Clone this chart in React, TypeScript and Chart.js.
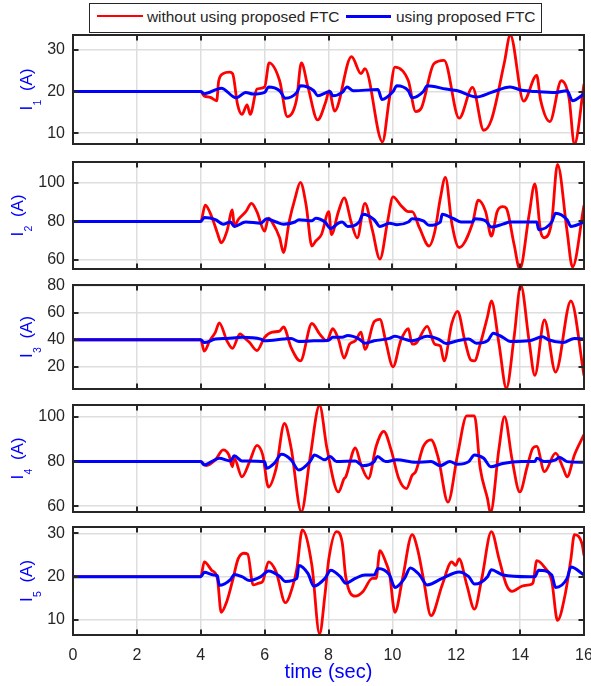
import React, { useEffect, useRef } from 'react';
import { Chart, registerables } from 'chart.js';

Chart.register(...registerables);

// ---------------- data ----------------
const xTicks = [0, 2, 4, 6, 8, 10, 12, 14, 16];

const i1Ticks = [10, 20, 30];
const i2Ticks = [60, 80, 100];
const i3Ticks = [20, 40, 60, 80];
const i4Ticks = [60, 80, 100];
const i5Ticks = [10, 20, 30];

const i1Red: number[][] = [[0, 20], [4.0, 20], [4.1, 19], [4.3, 18.6], [4.5, 17.8], [4.56, 22.5], [4.7, 24.3], [4.9, 24.7], [5.0, 24.3], [5.15, 17], [5.29, 14.5], [5.45, 16.8], [5.55, 14.5], [5.76, 20.6], [6.0, 21.1], [6.14, 26.9], [6.47, 22.6], [6.71, 14.0], [7.0, 18.1], [7.15, 26.9], [7.36, 21.0], [7.66, 13.2], [7.92, 17.7], [8.02, 20.2], [8.19, 15.3], [8.72, 28.4], [9.02, 24.3], [9.14, 25.5], [9.69, 7.9], [9.9, 18], [10.08, 25.9], [10.5, 22.6], [10.73, 15.2], [10.91, 16.1], [11.3, 26.7], [11.62, 27.5], [12.09, 13.6], [12.51, 21.0], [12.86, 10.7], [13.1, 13.2], [13.51, 27.1], [13.69, 33.6], [14.11, 17.7], [14.52, 23.9], [14.64, 18], [14.93, 12.8], [15.29, 22.6], [15.53, 18.5], [15.7, 7.3], [16.0, 21.8]];
const i1Blue: number[][] = [[0, 20], [4.0, 20], [4.11, 19.5], [4.52, 20.6], [4.64, 20.8], [5.11, 18.5], [5.41, 19.8], [5.64, 19.4], [6.0, 19.8], [6.12, 21.1], [6.47, 20.2], [6.65, 18.4], [7.01, 19.8], [7.12, 21.4], [7.54, 20.2], [7.66, 19.0], [8.05, 20.0], [8.13, 19.0], [8.43, 19.8], [8.58, 21.1], [8.78, 20.2], [9.55, 20.5], [9.67, 18.1], [10.02, 20.0], [10.14, 21.4], [10.5, 20.2], [10.62, 18.5], [10.97, 20.0], [11.09, 21.4], [11.68, 20.6], [12.04, 20.2], [12.63, 18.7], [13.1, 19.8], [13.69, 21.1], [14.05, 20.3], [14.52, 20.0], [15.11, 19.8], [15.47, 20.2], [15.64, 17.8], [16.0, 19.4]];

const i2Red: number[][] = [[0, 80], [4.0, 80], [4.14, 88.5], [4.34, 82.6], [4.52, 74], [4.64, 68.9], [4.82, 74.9], [4.99, 86], [5.05, 77.4], [5.17, 80.9], [5.41, 85.1], [5.59, 89.4], [5.76, 85], [6.0, 74.9], [6.12, 81.7], [6.24, 79.5], [6.47, 71.5], [6.59, 63.8], [6.77, 80], [6.95, 91.9], [7.12, 100.4], [7.3, 88.5], [7.48, 67.2], [7.6, 69.8], [7.78, 73.2], [8.01, 85.1], [8.09, 73.2], [8.31, 85.1], [8.49, 92.3], [8.72, 79.1], [8.9, 71.5], [9.14, 89.4], [9.37, 75.7], [9.61, 60.4], [9.85, 80], [10.02, 92.8], [10.26, 88.5], [10.5, 85.1], [10.62, 85.1], [10.85, 76.6], [11.15, 67.2], [11.33, 74.9], [11.5, 91.9], [11.66, 103], [11.86, 79.1], [12.09, 66.4], [12.51, 79.1], [12.69, 91.1], [12.92, 85.1], [13.1, 72.3], [13.28, 85.1], [13.46, 87.7], [13.57, 86.8], [13.81, 68.1], [13.99, 55.2], [14.28, 83.4], [14.46, 99.6], [14.64, 74.9], [14.76, 71.5], [14.99, 80], [15.17, 109.8], [15.47, 74.9], [15.64, 56.2], [16.0, 88.5]];
const i2Blue: number[][] = [[0, 80], [4.0, 80], [4.11, 82], [4.46, 80.9], [4.7, 78.6], [4.93, 79.7], [5.05, 77.4], [5.41, 79.7], [5.88, 79.1], [6.06, 81.4], [6.36, 79.7], [6.59, 78.6], [6.95, 79.7], [7.07, 80.9], [7.48, 80.3], [7.6, 81.7], [7.89, 79.7], [8.07, 76.3], [8.31, 79.1], [8.43, 79.7], [8.6, 77.4], [8.96, 79.7], [9.08, 83.7], [9.43, 80.9], [9.61, 77.4], [9.91, 79.1], [10.14, 78.3], [10.5, 79.7], [10.62, 81.4], [10.97, 80.3], [11.15, 78], [11.5, 79.7], [11.56, 83.7], [11.92, 81.4], [12.15, 79.7], [12.51, 79.7], [12.57, 81.4], [12.92, 80.3], [13.1, 77.1], [13.46, 78.6], [13.69, 79.7], [14.52, 79.7], [14.58, 75.7], [14.99, 79.7], [15.11, 84.3], [15.47, 80.9], [15.59, 77.4], [16.0, 79.7]];

const i3Red: number[][] = [[0, 40], [4.0, 40], [4.11, 31.5], [4.28, 39.2], [4.46, 45.7], [4.58, 52.6], [4.82, 39.2], [4.99, 33.6], [5.23, 44.4], [5.41, 40.5], [5.53, 37.9], [5.76, 32], [6.0, 41.8], [6.24, 45.7], [6.47, 46.4], [6.59, 49.5], [6.83, 34.1], [7.12, 24.3], [7.48, 52.1], [7.72, 44.4], [7.95, 39.2], [8.13, 48.2], [8.31, 40.5], [8.49, 26.4], [8.66, 36.7], [8.84, 39.2], [9.02, 45.7], [9.14, 32.8], [9.43, 53.4], [9.61, 55.2], [9.79, 39.2], [10.02, 19.9], [10.26, 39.2], [10.5, 48.2], [10.62, 36.7], [10.73, 37.2], [11.09, 50], [11.33, 36.7], [11.5, 35.4], [11.62, 24.3], [11.86, 52.1], [12.04, 61.1], [12.27, 39.2], [12.45, 25.1], [12.57, 24.3], [12.75, 36.7], [12.98, 57.3], [13.1, 68.8], [13.34, 36.7], [13.57, 4], [13.81, 41.8], [14.02, 80.5], [14.28, 39.2], [14.46, 13.5], [14.76, 54.7], [15.11, 16], [15.59, 68.8], [16.0, 13.5]];
const i3Blue: number[][] = [[0, 40], [4.0, 40], [4.11, 37.9], [4.46, 40.5], [4.82, 41], [5.29, 41.8], [5.88, 40.5], [6.0, 39.2], [6.59, 40.5], [6.83, 41], [7.07, 38.7], [7.54, 39.2], [8.01, 39.7], [8.13, 41.8], [8.43, 41.8], [8.6, 43.1], [8.96, 40.5], [9.14, 37.4], [9.43, 39.2], [9.91, 41], [10.08, 42.6], [10.38, 40.5], [10.62, 39.2], [11.09, 42.6], [11.44, 40.5], [11.68, 37.2], [12.04, 39.2], [12.39, 40.5], [12.63, 37.4], [12.98, 39.2], [13.16, 44.9], [13.46, 41.8], [13.69, 38.7], [14.28, 39.2], [14.7, 42.3], [14.88, 40], [15.35, 38], [15.7, 41], [16.0, 40.5]];

const i4Red: number[][] = [[0, 80], [4.0, 80], [4.17, 78.2], [4.46, 80.8], [4.7, 85.3], [4.88, 83], [4.99, 77.7], [5.05, 81.5], [5.29, 73.2], [5.53, 80], [5.76, 87.3], [5.94, 83], [6.12, 68.6], [6.36, 77], [6.62, 97.1], [6.83, 86.1], [7.15, 57.5], [7.42, 81.5], [7.72, 105.2], [7.95, 86.1], [8.31, 66.4], [8.49, 72.4], [8.54, 73.2], [8.84, 86.1], [9.02, 78.5], [9.25, 72.4], [9.49, 86.8], [9.73, 93.6], [9.96, 85.3], [10.2, 72.4], [10.44, 67.9], [10.62, 73.9], [10.73, 75.5], [10.97, 86.8], [11.21, 89.8], [11.44, 81.5], [11.74, 61.8], [12.04, 83], [12.33, 100.5], [12.57, 100.5], [12.75, 77], [12.98, 63.3], [13.07, 57], [13.34, 86.1], [13.51, 100.2], [13.75, 80.8], [13.99, 66.4], [14.22, 77.7], [14.4, 86.1], [14.52, 86.8], [14.76, 75.5], [15.11, 83.8], [15.35, 77], [15.47, 73.2], [15.7, 83], [16.0, 92.1]];
const i4Blue: number[][] = [[0, 80], [4.0, 80], [4.11, 78.5], [4.34, 80], [4.58, 81.5], [4.93, 80.3], [5.05, 82.6], [5.29, 80.3], [6.0, 80], [6.06, 77], [6.3, 79.2], [6.53, 83.3], [6.83, 80.8], [7.07, 76.2], [7.42, 80], [7.56, 83], [7.89, 80.8], [8.05, 82.3], [8.25, 80], [8.84, 80.3], [9.08, 78.2], [9.43, 80], [9.53, 82.3], [9.79, 80], [10.14, 80.8], [10.73, 79.7], [11.21, 80], [11.5, 78.2], [11.8, 80], [12.04, 78.8], [12.39, 80], [12.57, 83], [12.86, 81.5], [13.08, 77.7], [13.46, 79.2], [14.05, 80], [14.46, 80], [14.52, 81.5], [14.76, 80], [15.11, 80.8], [15.23, 82], [15.47, 80], [16.0, 79.7]];

const i5Red: number[][] = [[0, 20], [4.0, 20], [4.11, 23.4], [4.34, 21.5], [4.52, 19.6], [4.64, 11.8], [4.82, 14.4], [4.99, 18.9], [5.17, 24.1], [5.35, 25.4], [5.47, 25.2], [5.64, 18.1], [5.82, 18.5], [5.94, 18.9], [6.12, 23.4], [6.36, 21.1], [6.65, 14], [6.89, 18.1], [7.01, 21.9], [7.18, 30.8], [7.48, 22.6], [7.72, 6.8], [7.89, 15.9], [8.01, 24.1], [8.25, 30.4], [8.43, 27.8], [8.54, 20], [8.84, 15.5], [9.08, 16.6], [9.37, 19.6], [9.49, 19.6], [9.61, 26], [9.79, 23.4], [9.91, 20.7], [10.08, 11.8], [10.32, 19.6], [10.62, 29.7], [10.79, 26.3], [10.97, 19.6], [11.21, 11], [11.56, 18.1], [11.86, 23.4], [11.98, 22.6], [12.09, 24.1], [12.33, 18.1], [12.57, 12.5], [12.8, 19.6], [13.1, 30.4], [13.34, 24.1], [13.57, 18.1], [13.75, 16.6], [14.05, 17.8], [14.28, 18.1], [14.4, 18.5], [14.52, 23.7], [14.76, 22.2], [14.99, 19], [15.17, 9.9], [15.41, 15.9], [15.59, 24.1], [15.7, 29.7], [15.94, 27.5], [16.0, 24.9]];
const i5Blue: number[][] = [[0, 20], [4.0, 20], [4.11, 21], [4.4, 20.4], [4.52, 20.2], [4.58, 18], [4.93, 19.3], [5.05, 20.5], [5.29, 20], [5.53, 19.1], [5.88, 20], [6.12, 21.3], [6.47, 20.1], [6.65, 18.9], [7.01, 19.6], [7.07, 22.6], [7.36, 20.7], [7.54, 17.8], [7.89, 19.6], [8.07, 21.5], [8.37, 20], [8.54, 18.5], [8.84, 19.6], [9.14, 20.4], [9.43, 20.4], [9.55, 21.9], [9.91, 20.4], [10.08, 17.5], [10.38, 19.6], [10.56, 22], [10.85, 20.4], [11.09, 18.1], [11.56, 19.6], [12.09, 21.1], [12.39, 20], [12.57, 18.3], [12.98, 20], [13.1, 21.6], [13.46, 20.4], [14.28, 20], [14.46, 20], [14.58, 21.5], [14.99, 20.4], [15.11, 17.5], [15.47, 19.6], [15.59, 22.2], [16.0, 20.4]];

const yMins = [7.4, 55.2, 3.4, 57.4, 6.55];
const yMaxs = [33.6, 111, 80.7, 105.4, 31.45];
const subscripts = ['1', '2', '3', '4', '5'];
const redSeries = [i1Red, i2Red, i3Red, i4Red, i5Red];
const blueSeries = [i1Blue, i2Blue, i3Blue, i4Blue, i5Blue];
const yTickSets = [i1Ticks, i2Ticks, i3Ticks, i4Ticks, i5Ticks];

const legendLabels = ['without using proposed FTC', 'using proposed FTC'];
const xTitle = 'time (sec)';

// ---------------- layout / style ----------------
const W = 591;
const H = 686;
const panelTops = [35, 162, 285, 405, 527];
const panelBottoms = [144, 269, 389, 512, 635];
const PLOT_LEFT = 73;
const PLOT_RIGHT = 584;
const PAD = 14;
const FONT = '"Liberation Sans", Arial, Helvetica, sans-serif';
const AX = '#262626';
const GRID = '#dedede';
const RED = '#ff0000';
const BLUE = '#0000ff';

const framePlugin = {
  id: 'matlabFrame',
  afterDraw(chart: any) {
    const { ctx, chartArea } = chart;
    const { left, right, top, bottom } = chartArea;
    const xs = chart.scales.x;
    const ys = chart.scales.y;
    ctx.save();
    ctx.strokeStyle = AX;
    ctx.lineWidth = 2;
    ctx.beginPath();
    xs.ticks.forEach((t: any) => {
      const px = Math.round(xs.getPixelForValue(t.value));
      if (px <= left + 1 || px >= right - 1) return;
      ctx.moveTo(px, bottom);
      ctx.lineTo(px, bottom - 5.5);
      ctx.moveTo(px, top);
      ctx.lineTo(px, top + 5.5);
    });
    ys.ticks.forEach((t: any) => {
      const py = Math.round(ys.getPixelForValue(t.value));
      if (py <= top + 1 || py >= bottom - 1) return;
      ctx.moveTo(left, py);
      ctx.lineTo(left + 5.5, py);
      ctx.moveTo(right, py);
      ctx.lineTo(right - 5.5, py);
    });
    ctx.stroke();
    ctx.strokeRect(left, top, right - left, bottom - top);

    // y label: I_k (A)
    const sub = chart.options.plugins.matlabFrame.sub;
    ctx.font = '16px ' + FONT;
    let maxW = 0;
    ys.ticks.forEach((t: any) => {
      maxW = Math.max(maxW, ctx.measureText(String(t.value)).width);
    });
    const baseX = left - 8 - maxW - 15.5;
    const cy = (top + bottom) / 2;
    ctx.font = '17px ' + FONT;
    const wI = ctx.measureText('I').width;
    const wA = ctx.measureText('(A)').width;
    ctx.font = '10.5px ' + FONT;
    const wS = ctx.measureText(sub).width;
    const gap = 9;
    const total = wI + wS + gap + wA;
    ctx.translate(baseX, cy);
    ctx.rotate(-Math.PI / 2);
    ctx.fillStyle = BLUE;
    ctx.textBaseline = 'alphabetic';
    ctx.textAlign = 'left';
    let x0 = -total / 2;
    ctx.font = '17px ' + FONT;
    ctx.fillText('I', x0, 0);
    x0 += wI;
    ctx.font = '10.5px ' + FONT;
    ctx.fillText(sub, x0 + 0.5, 9.5);
    x0 += wS + gap;
    ctx.font = '17px ' + FONT;
    ctx.fillText('(A)', x0, 0);
    ctx.restore();
  },
};

function Panel({ idx }: { idx: number }) {
  const ref = useRef<HTMLCanvasElement | null>(null);
  const isLast = idx === 4;
  const canvasTop = panelTops[idx] - PAD;
  const canvasBottom = isLast ? H : panelBottoms[idx] + PAD;
  const h = canvasBottom - canvasTop;

  useEffect(() => {
    const canvas = ref.current;
    if (!canvas) return;
    const yTicks = yTickSets[idx];
    const chart = new Chart(canvas, {
      type: 'line',
      data: {
        datasets: [
          {
            label: legendLabels[0],
            data: redSeries[idx].map(([x, y]) => ({ x, y })),
            borderColor: RED,
            borderWidth: 2.8,
            order: 1,
          },
          {
            label: legendLabels[1],
            data: blueSeries[idx].map(([x, y]) => ({ x, y })),
            borderColor: BLUE,
            borderWidth: 3,
            order: 0,
          },
        ],
      },
      options: {
        animation: false,
        responsive: false,
        maintainAspectRatio: false,
        events: [],
        layout: {
          padding: { top: PAD, bottom: isLast ? 0 : PAD, left: 0, right: W - PLOT_RIGHT },
        },
        elements: {
          point: { radius: 0 },
          line: { cubicInterpolationMode: 'monotone', fill: false },
        },
        plugins: {
          legend: { display: false },
          tooltip: { enabled: false },
          title: { display: false },
          matlabFrame: { sub: subscripts[idx] },
        } as any,
        scales: {
          x: {
            type: 'linear',
            min: 0,
            max: 16,
            afterBuildTicks: (s: any) => {
              s.ticks = xTicks.map((v) => ({ value: v }));
            },
            afterFit: (s: any) => {
              s.height = isLast ? H - panelBottoms[4] : 0;
              s.paddingLeft = 0;
              s.paddingRight = 0;
            },
            ticks: {
              display: isLast,
              color: AX,
              font: { family: FONT, size: 16 },
              padding: 11,
              maxRotation: 0,
              autoSkip: false,
            },
            grid: { color: GRID, lineWidth: 1.5, drawTicks: false },
            border: { display: false },
            title: {
              display: isLast,
              text: xTitle,
              color: BLUE,
              font: { family: FONT, size: 20 },
              padding: { top: 0, bottom: 2 },
            },
          },
          y: {
            type: 'linear',
            min: yMins[idx],
            max: yMaxs[idx],
            afterBuildTicks: (s: any) => {
              s.ticks = yTicks.map((v) => ({ value: v }));
            },
            afterFit: (s: any) => {
              s.width = PLOT_LEFT;
              s.paddingTop = 0;
              s.paddingBottom = 0;
            },
            ticks: {
              color: AX,
              font: { family: FONT, size: 16 },
              padding: 8,
              autoSkip: false,
            },
            grid: { color: GRID, lineWidth: 1.5, drawTicks: false },
            border: { display: false },
          },
        },
      } as any,
      plugins: [framePlugin as any],
    });
    return () => chart.destroy();
  }, [idx]);

  return (
    <canvas
      ref={ref}
      width={W}
      height={h}
      style={{ position: 'absolute', left: 0, top: canvasTop, width: W, height: h }}
    />
  );
}

function Legend() {
  const textStyle: React.CSSProperties = {
    position: 'absolute',
    top: 8,
    height: 18,
    lineHeight: '18px',
    fontFamily: FONT,
    fontSize: 15.4,
    color: AX,
    whiteSpace: 'nowrap',
  };
  return (
    <>
      <div
        style={{
          position: 'absolute',
          left: 89,
          top: 3,
          width: 451,
          height: 28,
          border: '1px solid #262626',
          background: '#fff',
        }}
      />
      <div style={{ position: 'absolute', left: 97, top: 14.5, width: 46, height: 2.8, background: RED }} />
      <div style={{ ...textStyle, left: 147 }}>{legendLabels[0]}</div>
      <div style={{ position: 'absolute', left: 346, top: 14.5, width: 45, height: 3, background: BLUE }} />
      <div style={{ ...textStyle, left: 396 }}>{legendLabels[1]}</div>
    </>
  );
}

export default function App() {
  return (
    <div
      style={{
        position: 'absolute',
        left: 0,
        top: 0,
        width: W,
        height: H,
        background: '#fff',
        overflow: 'hidden',
      }}
    >
      {[0, 1, 2, 3, 4].map((i) => (
        <Panel key={i} idx={i} />
      ))}
      <Legend />
    </div>
  );
}
